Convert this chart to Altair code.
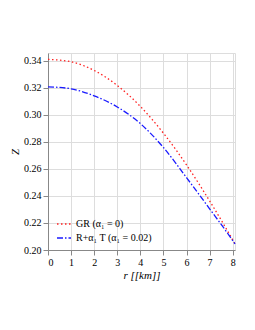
import altair as alt
import pandas as pd

r_gr = [0, 1, 2, 3, 4, 5, 6, 7, 8, 8.1]
z_gr = [0.3410, 0.3392, 0.3328, 0.3217, 0.3062, 0.2864, 0.2629, 0.2363, 0.2075, 0.2045]
r_rt = [0, 1, 2, 3, 4, 5, 6, 7, 8, 8.1]
z_rt = [0.3207, 0.3192, 0.3140, 0.3058, 0.2935, 0.2758, 0.2535, 0.2305, 0.2070, 0.2045]
series = ["GR (α₁ = 0)", "R+α₁ T (α₁ = 0.02)"]
x_ticks = [0, 1, 2, 3, 4, 5, 6, 7, 8]
y_ticks = [0.20, 0.22, 0.24, 0.26, 0.28, 0.30, 0.32, 0.34]

df = pd.concat([
    pd.DataFrame({"r": r_gr, "Z": z_gr, "s": series[0]}),
    pd.DataFrame({"r": r_rt, "Z": z_rt, "s": series[1]}),
])

font = "Liberation Serif, Times New Roman, serif"

chart = alt.Chart(df).mark_line(interpolate="monotone", strokeWidth=1.3).encode(
    x=alt.X("r:Q", scale=alt.Scale(domain=[0, 8.1], nice=False),
            axis=alt.Axis(values=x_ticks, title="r [[km]]", format="d",
                          titleFontStyle="italic", titleFontWeight="normal",
                          titlePadding=2)),
    y=alt.Y("Z:Q", scale=alt.Scale(domain=[0.2, 0.3457], nice=False, zero=False),
            axis=alt.Axis(values=y_ticks, title="Z", format=".2f",
                          titleFontStyle="italic", titleFontWeight="normal",
                          titlePadding=3)),
    color=alt.Color("s:N", scale=alt.Scale(domain=series, range=["#ff2020", "#1a1aff"]),
                    legend=alt.Legend(title=None, orient="none", legendX=8, legendY=163,
                                      symbolType="stroke", symbolSize=196,
                                      symbolStrokeWidth=1.3, labelFont=font,
                                      labelFontSize=10, rowPadding=1,
                                      labelLimit=200)),
    strokeDash=alt.StrokeDash("s:N", scale=alt.Scale(domain=series,
                                                     range=[[1.5, 2.5], [6, 2, 1.5, 2]]),
                              legend=None),
).properties(
    width=187, height=197,
    autosize=alt.AutoSizeParams(type="none"),
    padding={"left": 40, "top": 45, "right": 12, "bottom": 60},
).configure_view(
    stroke="#999999", strokeWidth=1.5
).configure_axis(
    labelFont=font, labelFontSize=12, labelColor="black",
    titleFont=font, titleFontSize=12, titleColor="black",
    domainColor="#999999", domainWidth=1.5, grid=False,
    ticks=False, labelPadding=3,
).configure_legend(
    labelFont=font
).configure(font=font)

chart.save("out.html", embed_options={"renderer": "svg", "actions": False})
